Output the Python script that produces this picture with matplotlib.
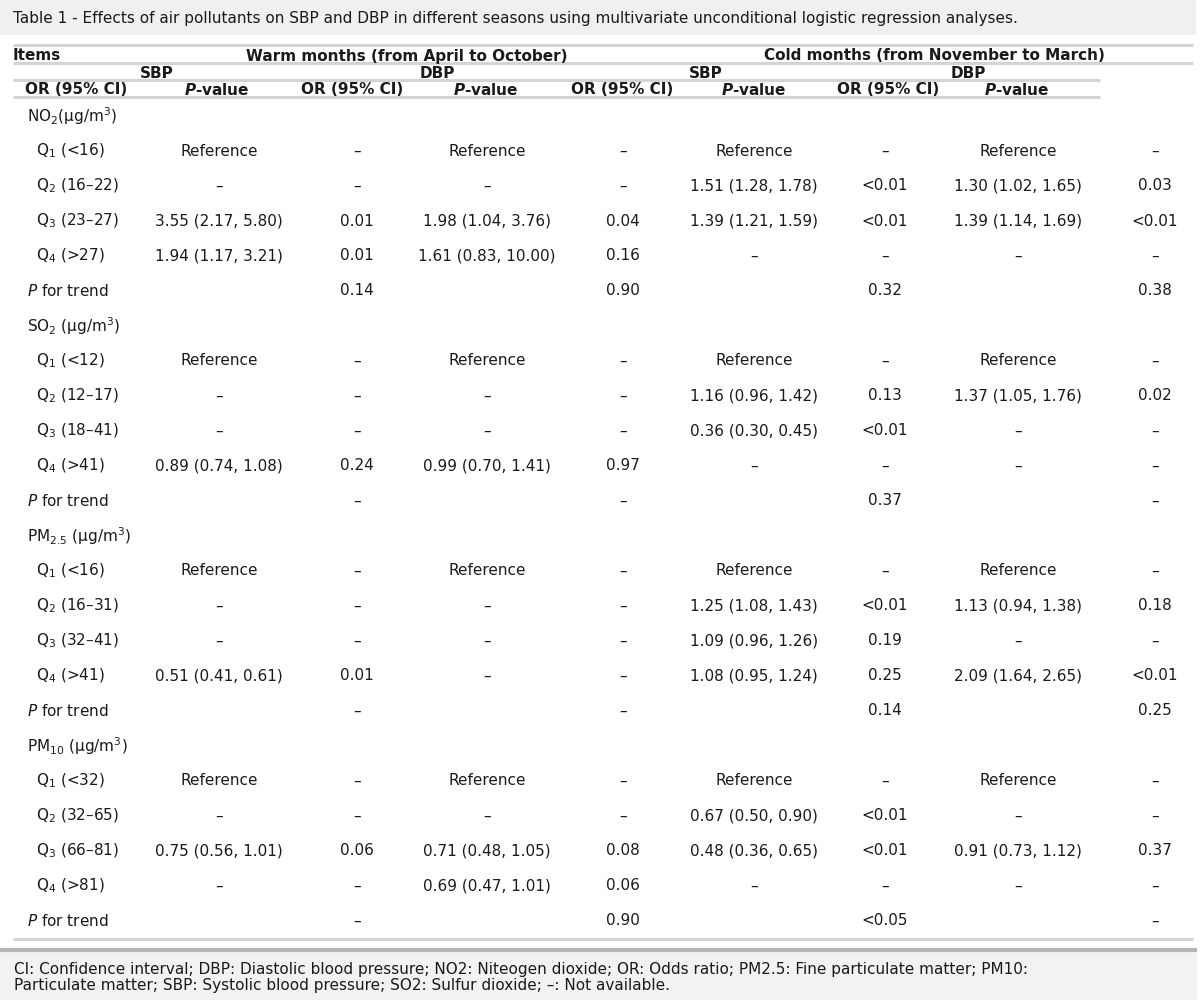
import matplotlib.pyplot as plt
from matplotlib.patches import Rectangle

plt.rcParams['font.family'] = ['DejaVu Sans']
plt.rcParams['mathtext.fontset'] = 'dejavusans'

TITLE = ('Table 1 - Effects of air pollutants on SBP and DBP in different seasons '
         'using multivariate unconditional logistic regression analyses.')
FOOTER = ['CI: Confidence interval; DBP: Diastolic blood pressure; NO2: Niteogen dioxide; '
          'OR: Odds ratio; PM2.5: Fine particulate matter; PM10:',
          'Particulate matter; SBP: Systolic blood pressure; SO2: Sulfur dioxide; \u2013: Not available.']

seasons = ['Warm months (from April to October)', 'Cold months (from November to March)']
outcomes = ['SBP', 'DBP', 'SBP', 'DBP']
sub_headers = ['OR (95% CI)', r'$\mathbfit{P}$-value'] * 4

D = '\u2013'
REF = 'Reference'

pollutants = [r'NO$_2$(μg/m$^3$)', r'SO$_2$ (μg/m$^3$)',
              r'PM$_{2.5}$ (μg/m$^3$)', r'PM$_{10}$ (μg/m$^3$)']

quartiles = [
    ['(<16)', '(16\u201322)', '(23\u201327)', '(>27)'],
    ['(<12)', '(12\u201317)', '(18\u201341)', '(>41)'],
    ['(<16)', '(16\u201331)', '(32\u201341)', '(>41)'],
    ['(<32)', '(32\u201365)', '(66\u201381)', '(>81)'],
]

# per pollutant: Q1..Q4 then P for trend, 8 cells each
no2_vals = [
    [REF, D, REF, D, REF, D, REF, D],
    [D, D, D, D, '1.51 (1.28, 1.78)', '<0.01', '1.30 (1.02, 1.65)', '0.03'],
    ['3.55 (2.17, 5.80)', '0.01', '1.98 (1.04, 3.76)', '0.04', '1.39 (1.21, 1.59)', '<0.01', '1.39 (1.14, 1.69)', '<0.01'],
    ['1.94 (1.17, 3.21)', '0.01', '1.61 (0.83, 10.00)', '0.16', D, D, D, D],
    ['', '0.14', '', '0.90', '', '0.32', '', '0.38'],
]
so2_vals = [
    [REF, D, REF, D, REF, D, REF, D],
    [D, D, D, D, '1.16 (0.96, 1.42)', '0.13', '1.37 (1.05, 1.76)', '0.02'],
    [D, D, D, D, '0.36 (0.30, 0.45)', '<0.01', D, D],
    ['0.89 (0.74, 1.08)', '0.24', '0.99 (0.70, 1.41)', '0.97', D, D, D, D],
    ['', D, '', D, '', '0.37', '', D],
]
pm25_vals = [
    [REF, D, REF, D, REF, D, REF, D],
    [D, D, D, D, '1.25 (1.08, 1.43)', '<0.01', '1.13 (0.94, 1.38)', '0.18'],
    [D, D, D, D, '1.09 (0.96, 1.26)', '0.19', D, D],
    ['0.51 (0.41, 0.61)', '0.01', D, D, '1.08 (0.95, 1.24)', '0.25', '2.09 (1.64, 2.65)', '<0.01'],
    ['', D, '', D, '', '0.14', '', '0.25'],
]
pm10_vals = [
    [REF, D, REF, D, REF, D, REF, D],
    [D, D, D, D, '0.67 (0.50, 0.90)', '<0.01', D, D],
    ['0.75 (0.56, 1.01)', '0.06', '0.71 (0.48, 1.05)', '0.08', '0.48 (0.36, 0.65)', '<0.01', '0.91 (0.73, 1.12)', '0.37'],
    [D, D, '0.69 (0.47, 1.01)', '0.06', D, D, D, D],
    ['', D, '', '0.90', '', '<0.05', '', D],
]
all_vals = [no2_vals, so2_vals, pm25_vals, pm10_vals]

# layout (pixel coordinates)
W, H = 1200, 1004
col_x = [219, 357, 487, 623, 754, 885, 1018, 1155]
sub_x = [76, 217, 352, 486, 622, 754, 888, 1017]
row0, row_h = 116, 35
FS = 11
TXT = '#1a1a1a'
LINE = '#d4d4d4'

fig = plt.figure(figsize=(W / 100, H / 100), dpi=100)
ax = fig.add_axes([0, 0, 1, 1])
ax.set_xlim(0, W)
ax.set_ylim(H, 0)
ax.axis('off')

# title bar
ax.add_patch(Rectangle((0, 0), 1196, 36, facecolor='#f0f0f0', edgecolor='none'))
ax.text(13, 18, TITLE, fontsize=FS, color=TXT, va='center', ha='left')

# header lines
for y, x1 in [(46, 1193), (64, 1193), (81, 1100), (98, 1100), (940, 1193)]:
    ax.plot([13, x1], [y, y], color=LINE, lw=2.2, solid_capstyle='butt')

ax.text(13, 56, 'Items', fontsize=FS, fontweight='bold', color=TXT, va='center')
ax.text(407, 56, seasons[0], fontsize=FS, fontweight='bold', color=TXT, va='center', ha='center')
ax.text(934, 56, seasons[1], fontsize=FS, fontweight='bold', color=TXT, va='center', ha='center')
for x, s in zip([157, 437, 706, 968], outcomes):
    ax.text(x, 73, s, fontsize=FS, fontweight='bold', color=TXT, va='center', ha='center')
for x, s in zip(sub_x, sub_headers):
    ax.text(x, 90, s, fontsize=FS, fontweight='bold', color=TXT, va='center', ha='center')

# body
r = 0
for name, qs, vals in zip(pollutants, quartiles, all_vals):
    y = row0 + r * row_h
    ax.text(27, y, name, fontsize=FS, color=TXT, va='center')
    r += 1
    for i, row in enumerate(vals):
        y = row0 + r * row_h
        if i < 4:
            lab = 'Q$_%d$ %s' % (i + 1, qs[i])
            ax.text(36, y, lab, fontsize=FS, color=TXT, va='center')
        else:
            ax.text(27, y, '$\\mathit{P}$ for trend', fontsize=FS, color=TXT, va='center')
        for x, v in zip(col_x, row):
            if v:
                ax.text(x, y, v, fontsize=FS, color=TXT, va='center', ha='center')
        r += 1

# footer
ax.add_patch(Rectangle((0, 951), 1197, 50, facecolor='#f2f2f2', edgecolor='none'))
ax.plot([0, 1197], [951, 951], color='#b4b4b4', lw=3, solid_capstyle='butt')
ax.text(14, 970, FOOTER[0], fontsize=FS, color=TXT, va='center')
ax.text(14, 986, FOOTER[1], fontsize=FS, color=TXT, va='center')

fig.savefig('out.png', dpi=100, facecolor='white')
